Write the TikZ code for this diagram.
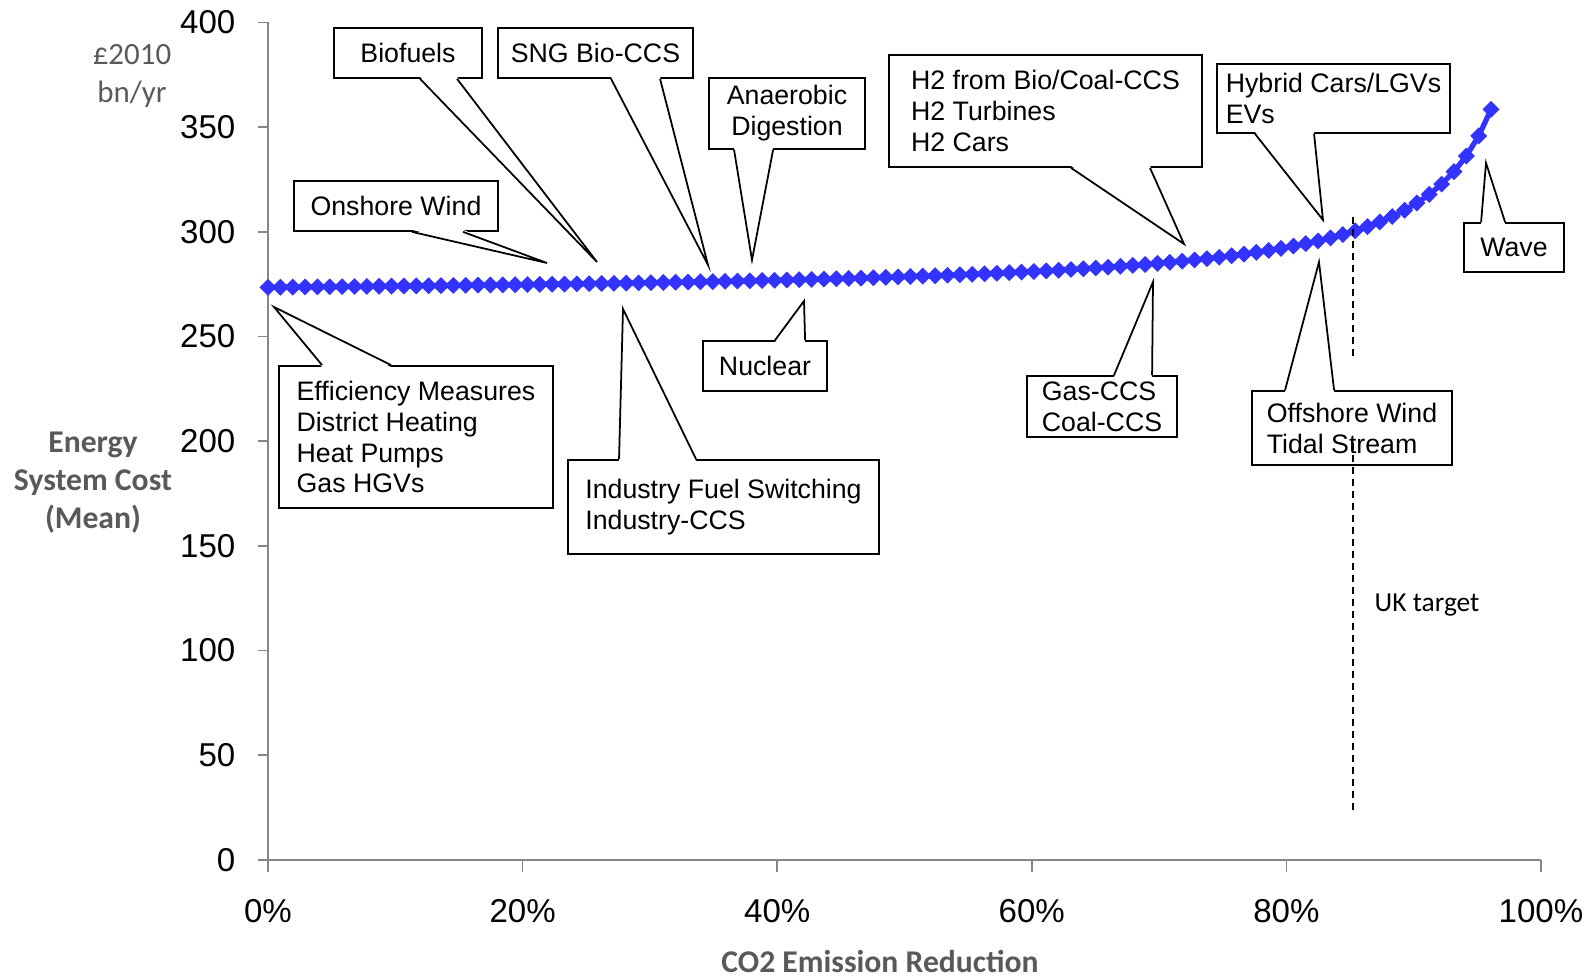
\documentclass[tikz,border=0pt]{standalone}
\usepackage{fontspec}
\setmainfont{Liberation Sans}
\newfontfamily\calib{Carlito}
\usetikzlibrary{calc,shapes.geometric}
\definecolor{serblue}{RGB}{51,51,255}
\definecolor{axgray}{RGB}{134,134,134}
\definecolor{ttlgray}{RGB}{89,89,89}
\tikzstyle{bubble}=[draw, fill=white, line width=0.5pt, inner sep=0, font=\fontsize{7.6}{8.8}\selectfont]
\tikzstyle{wedgeline}=[line width=0.5pt]
\tikzstyle{mk}=[shape=diamond, minimum size=0.175cm, inner sep=0, fill=serblue]
\tikzstyle{axisline}=[axgray, line width=0.5pt]
\tikzstyle{ticklab}=[inner sep=0, font=\fontsize{9.4}{11}\selectfont]
\tikzstyle{ttl}=[inner sep=0, text=ttlgray, font=\calib\bfseries\fontsize{9}{10.8}\selectfont]

\begin{document}
\begin{tikzpicture}[x=0.01cm, y=-0.01cm]
\useasboundingbox (0,0) rectangle (1590,976);
%
\draw[axisline] (268,22) -- (268,860) -- (1541,860);
\foreach \v in {0,50,...,400}
    {
	\draw[axisline] (258,{860-2.094*\v}) -- (268,{860-2.094*\v});
	\node[ticklab, anchor=east] (y\v) at (236,{860-2.094*\v}) {\v};}
\foreach \k [evaluate=\k as \pc using int(20*\k)] in {0,...,5}
    {
	\draw[axisline] ({268+254.6*\k},860) -- ({268+254.6*\k},872);
	\node[ticklab] (x\k) at ({268+254.6*\k},911) {\pc\%};}
%
\node[ttl, align=center] (ytitle) at (93,483) {Energy\\System Cost\\(Mean)};
\node[inner sep=0, text=ttlgray, align=center, font=\calib\fontsize{8.8}{10.8}\selectfont] (yunit) at (132,76) {£2010\\bn/yr};
\node[ttl] (xtitle) at (880,961) {CO2 Emission Reduction};
%
\foreach \i in {0,...,99}
    {
	\pgfmathsetmacro{\p}{0.0097*\i}
	\coordinate (p\i) at ({268+1273*\p},{860-2.094*(273.5+5.24*\p/(1.02-\p))});}
\draw[serblue, line width=1.5pt] (p0) \foreach \i in {1,...,99} {-- (p\i)};
\foreach \i in {0,...,99}
	\node[mk] (m\i) at (p\i) {};
%
\draw[dash pattern=on 0.07cm off 0.05cm, line width=0.6pt] (1353,217) -- (1353,357);
%
\node[bubble, minimum width=1.48cm, minimum height=0.50cm] (bio) at (408,53) {Biofuels};
\node[bubble, minimum width=1.95cm, minimum height=0.50cm] (sng) at (595.5,53) {SNG Bio-CCS};
\node[bubble, minimum width=2.04cm, minimum height=0.50cm] (ons) at (396,206) {Onshore Wind};
\node[bubble, minimum width=1.56cm, minimum height=0.71cm, align=center] (ana) at (787,113.5) {Anaerobic\\Digestion};
\node[bubble, minimum width=3.13cm, minimum height=1.12cm, align=left] (htwo) at (1045.5,111) {H2 from Bio/Coal-CCS\\H2 Turbines\\H2 Cars};
\node[bubble, minimum width=2.33cm, minimum height=0.69cm, align=left] (hyb) at (1333.5,98.5) {Hybrid Cars/LGVs\\EVs};
\node[bubble, minimum width=1.00cm, minimum height=0.49cm] (wave) at (1514,247.5) {Wave};
\node[bubble, minimum width=2.00cm, minimum height=0.74cm, align=left] (off) at (1352,428) {Offshore Wind\\Tidal Stream};
\node[bubble, minimum width=1.50cm, minimum height=0.61cm, align=left] (gas) at (1102,406.5) {Gas-CCS\\Coal-CCS};
\node[bubble, minimum width=1.24cm, minimum height=0.50cm] (nuc) at (765,366) {Nuclear};
\node[bubble, minimum width=3.11cm, minimum height=0.94cm, align=left] (ind) at (723.5,507) {Industry Fuel Switching\\Industry-CCS};
\node[bubble, minimum width=2.74cm, minimum height=1.42cm, align=left] (eff) at (416,437) {Efficiency Measures\\District Heating\\Heat Pumps\\Gas HGVs};
%
\foreach \na/\an/\xa/\xb/\tx/\ty/\dy in {bio/south west/87/124/597/262/-2, sng/south west/114/163/708/265/-2,
    ons/south west/119/170/547/263/-2, ana/south west/26/65/752/260/-2, htwo/south west/183/262/1184/244/-2,
    hyb/south west/39/98/1323/220/-2, wave/north west/18/42/1486/163/2, off/north west/34/83/1319/262/2,
    gas/north west/88/126/1153/282/2, nuc/north west/73/103/804/301/2, ind/north west/52/129/623/309/2,
    eff/north west/44/113/274/307/2}
    {
	\coordinate (\na tip) at (\tx,\ty);
	\fill[white] ($(\na.\an)+(\xa,\dy)$) -- (\na tip) -- ($(\na.\an)+(\xb,\dy)$) -- cycle;
	\draw[wedgeline] ($(\na.\an)+(\xa,0)$) -- (\na tip) -- ($(\na.\an)+(\xb,0)$);}
%
\draw[dash pattern=on 0.07cm off 0.05cm, line width=0.6pt] (1353,443) -- (1353,811);
\node[inner sep=0, anchor=west, font=\calib\fontsize{7.8}{9}\selectfont] (uk) at (1374,605) {UK target};
\end{tikzpicture}
\end{document}
